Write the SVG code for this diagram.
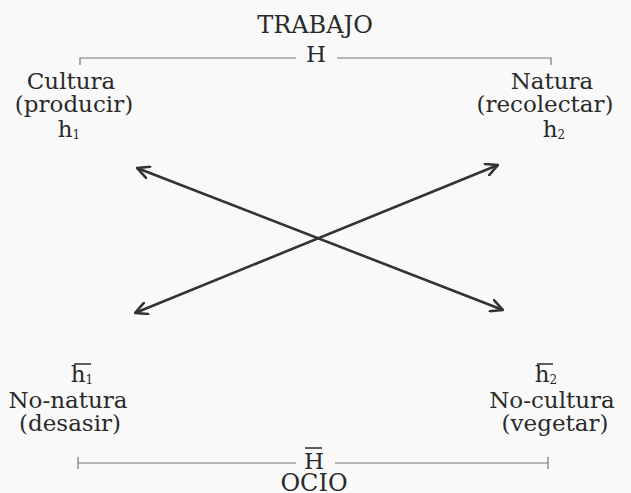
<svg xmlns="http://www.w3.org/2000/svg" width="631" height="493" viewBox="0 0 631 493">
<style>
text{font-family:"DejaVu Serif","Liberation Serif",serif;font-size:23px;fill:#2a2a2a;text-anchor:middle}
.big{font-size:24px}
.sub{font-size:12px}
.br{stroke:#777;stroke-width:1.2;fill:none}
.bar{stroke:#2a2a2a;stroke-width:1.5}
.arr{stroke:#333;stroke-width:2.6;fill:none}
</style>
<defs>
<marker id="ah" viewBox="0 0 14 14" refX="13" refY="7" markerWidth="14" markerHeight="14" markerUnits="userSpaceOnUse" orient="auto-start-reverse">
<path d="M1,1 L13,7 L1,13" stroke="#333" stroke-width="2.6" fill="none" stroke-linecap="round" stroke-linejoin="round"/>
</marker>
</defs>
<rect width="631" height="493" fill="#f9f9f9"/>
<g id="trabajo">
<text class="big" x="315" y="33">TRABAJO</text>
<text x="316" y="62">H</text>
<path class="br" d="M80,65 V58 H296 M337,58 H551 V65"/>
</g>
<g id="cultura">
<text x="71" y="89">Cultura</text>
<text x="74" y="112">(producir)</text>
<text x="69" y="137">h<tspan class="sub" dy="2">1</tspan></text>
</g>
<g id="natura">
<text x="552" y="89">Natura</text>
<text x="545" y="112">(recolectar)</text>
<text x="554" y="137">h<tspan class="sub" dy="2">2</tspan></text>
</g>
<g id="nonatura">
<line class="bar" x1="74" y1="364" x2="91" y2="364"/>
<text x="82" y="382">h<tspan class="sub" dy="2">1</tspan></text>
<text x="68" y="408">No-natura</text>
<text x="70" y="431">(desasir)</text>
</g>
<g id="nocultura">
<line class="bar" x1="537" y1="364" x2="553" y2="364"/>
<text x="546" y="382">h<tspan class="sub" dy="2">2</tspan></text>
<text x="552" y="408">No-cultura</text>
<text x="555" y="431">(vegetar)</text>
</g>
<g id="ocio">
<line class="bar" x1="305" y1="448" x2="322" y2="448"/>
<text x="314" y="469">H</text>
<text class="big" x="314" y="491">OCIO</text>
<path class="br" d="M78,457 V469 M78,463 H296 M335,463 H548 M548,457 V469"/>
</g>
<g id="connectors">
<line class="arr" x1="137" y1="168" x2="503" y2="310" marker-start="url(#ah)" marker-end="url(#ah)"/>
<line class="arr" x1="135" y1="313" x2="498" y2="165" marker-start="url(#ah)" marker-end="url(#ah)"/>
</g>
</svg>
